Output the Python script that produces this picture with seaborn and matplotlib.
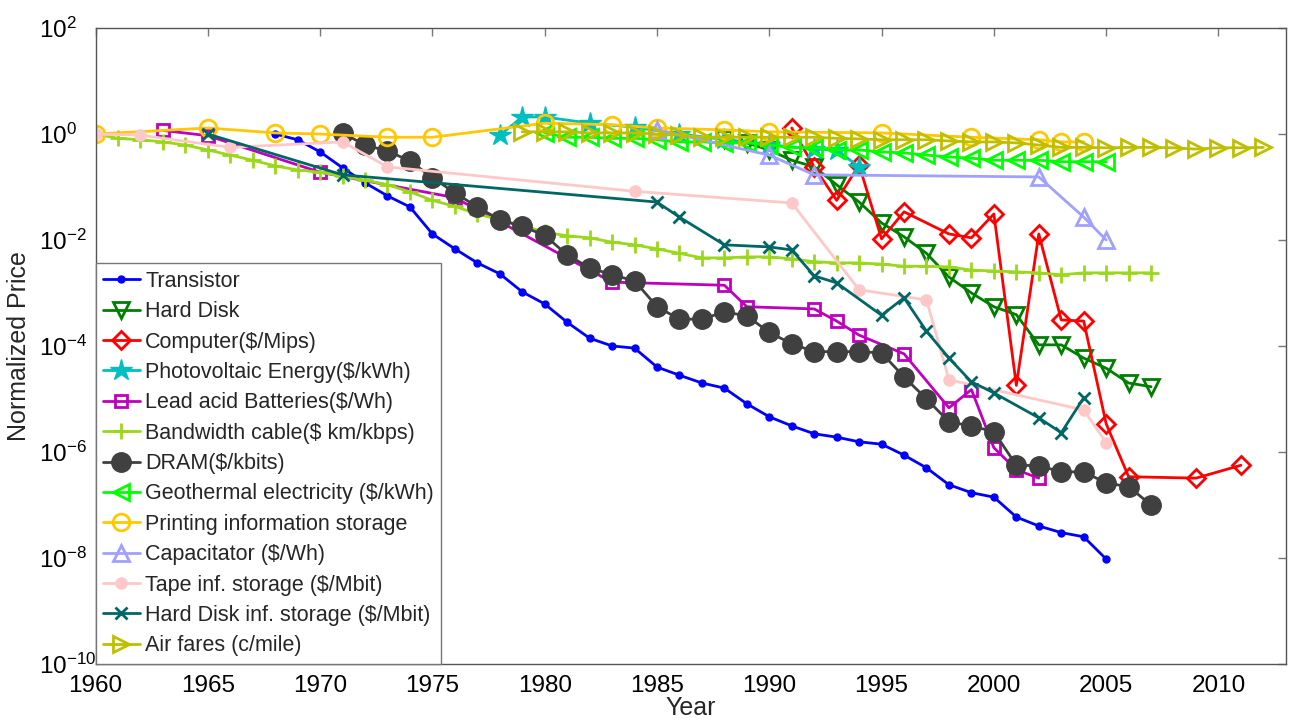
import matplotlib
matplotlib.use('Agg')
import matplotlib.pyplot as plt
import seaborn as sns
import pandas as pd

# ---- data (normalized price vs year) ----
transistor_years = list(range(1968, 2006))
transistor = [1.0, 0.78, 0.46, 0.23, 0.12, 0.068, 0.042, 0.013, 6.8e-3, 3.7e-3,
              2.3e-3, 1.05e-3, 6.2e-4, 2.8e-4, 1.4e-4, 1.0e-4, 9.1e-5, 4.0e-5, 2.8e-5, 2.0e-5,
              1.6e-5, 8.1e-6, 4.6e-6, 3.1e-6, 2.2e-6, 1.9e-6, 1.55e-6, 1.4e-6, 8.7e-7, 5.0e-7,
              2.4e-7, 1.7e-7, 1.4e-7, 5.9e-8, 4.0e-8, 3.0e-8, 2.5e-8, 9.5e-9]

hard_disk_years = list(range(1988, 2008))
hard_disk = [0.79, 0.68, 0.5, 0.32, 0.24, 0.11, 0.052, 0.021, 0.0115, 5.6e-3,
             2.0e-3, 1.0e-3, 5.5e-4, 3.9e-4, 1.05e-4, 1.05e-4, 5.9e-5, 3.8e-5, 2.0e-5, 1.7e-5]

computer_years = [1991, 1992, 1993, 1994, 1995, 1996, 1998, 1999, 2000, 2001, 2002,
                  2003, 2004, 2005, 2006, 2009, 2011]
computer = [1.3, 0.24, 0.056, 0.26, 0.0105, 0.034, 0.013, 0.011, 0.031, 1.8e-5, 0.013,
            3.1e-4, 2.95e-4, 3.4e-6, 3.4e-7, 3.2e-7, 5.6e-7]

pv_years = [1978, 1979, 1980, 1982, 1984, 1986, 1988, 1990, 1992, 1993, 1994]
pv = [0.95, 2.1, 2.1, 1.6, 1.35, 1.0, 0.79, 0.63, 0.52, 0.5, 0.24]

lead_years = [1963, 1965, 1970, 1976, 1983, 1988, 1989, 1992, 1993, 1994, 1996,
              1998, 1999, 2000, 2001, 2002]
lead = [1.17, 0.93, 0.19, 0.063, 1.6e-3, 1.4e-3, 5.5e-4, 5.0e-4, 2.95e-4, 1.6e-4, 7.1e-5,
        6.8e-6, 1.5e-5, 1.2e-6, 4.6e-7, 3.2e-7]

bandwidth_years = list(range(1960, 2008))
bandwidth = [1.0, 0.83, 0.78, 0.71, 0.62, 0.50, 0.40, 0.32, 0.25, 0.21,
             0.19, 0.16, 0.135, 0.11, 0.081, 0.056, 0.043, 0.031, 0.024, 0.019,
             0.014, 0.012, 0.011, 9.1e-3, 8.1e-3, 6.8e-3, 5.6e-3, 4.6e-3, 4.6e-3, 4.8e-3,
             4.8e-3, 4.4e-3, 3.9e-3, 3.7e-3, 3.7e-3, 3.5e-3, 3.2e-3, 3.2e-3, 3.1e-3, 2.7e-3,
             2.6e-3, 2.5e-3, 2.4e-3, 2.2e-3, 2.4e-3, 2.4e-3, 2.4e-3, 2.4e-3]

dram_years = list(range(1971, 2008))
dram = [1.05, 0.62, 0.48, 0.31, 0.15, 0.078, 0.042, 0.024, 0.018, 0.0123,
        5.2e-3, 3.0e-3, 2.2e-3, 1.7e-3, 5.5e-4, 3.2e-4, 3.2e-4, 4.4e-4, 3.7e-4, 1.8e-4,
        1.1e-4, 7.8e-5, 7.8e-5, 7.8e-5, 7.4e-5, 2.6e-5, 1.0e-5, 3.7e-6, 3.1e-6, 2.4e-6,
        5.6e-7, 5.5e-7, 4.2e-7, 4.2e-7, 2.6e-7, 2.2e-7, 1.0e-7]

geo_years = list(range(1980, 2006))
geo = [1.05, 0.87, 0.87, 0.83, 0.83, 0.78, 0.71, 0.71, 0.68, 0.68,
       0.62, 0.56, 0.55, 0.50, 0.50, 0.46, 0.44, 0.40, 0.37, 0.35,
       0.32, 0.32, 0.32, 0.30, 0.30, 0.30]

printing_years = [1960, 1965, 1968, 1970, 1973, 1975, 1980, 1983, 1985, 1988, 1990,
                  1995, 1999, 2002, 2003, 2004]
printing = [1.0, 1.3, 1.05, 1.0, 0.87, 0.87, 1.6, 1.5, 1.3, 1.2, 1.1,
            1.05, 0.87, 0.78, 0.71, 0.71]

cap_years = [1985, 1990, 1992, 2002, 2004, 2005]
cap = [1.2, 0.40, 0.17, 0.155, 0.027, 0.01]

tape_years = [1960, 1962, 1966, 1971, 1973, 1984, 1991, 1994, 1997, 1998, 2004, 2005]
tape = [1.0, 0.95, 0.56, 0.71, 0.24, 0.083, 0.050, 1.15e-3, 7.4e-4, 2.3e-5, 6.2e-6, 1.5e-6]

hdinf_years = [1965, 1971, 1985, 1986, 1988, 1990, 1991, 1992, 1993, 1995, 1996, 1997,
               1998, 1999, 2000, 2002, 2003, 2004]
hdinf = [1.0, 0.17, 0.052, 0.027, 8.1e-3, 7.4e-3, 6.5e-3, 2.1e-3, 1.55e-3, 3.8e-4, 8.1e-4,
         1.9e-4, 5.9e-5, 2.1e-5, 1.3e-5, 4.4e-6, 2.3e-6, 1.05e-5]

air_years = list(range(1979, 2013))
air = [1.1, 1.1, 1.1, 1.05, 1.05, 1.05, 1.0, 0.95, 0.87, 0.87,
       0.87, 0.87, 0.87, 0.87, 0.83, 0.81, 0.78, 0.78, 0.78, 0.74,
       0.71, 0.71, 0.68, 0.62, 0.56, 0.56, 0.55, 0.56, 0.56, 0.55,
       0.52, 0.55, 0.55, 0.56]

# (label, years, values, color, marker, markersize, filled)
series = [
    ('Transistor', transistor_years, transistor, '#0000FF', 'o', 5, True),
    ('Hard Disk', hard_disk_years, hard_disk, '#007F00', 'v', 11, False),
    ('Computer($/Mips)', computer_years, computer, '#FF0000', 'D', 9, False),
    ('Photovoltaic Energy($/kWh)', pv_years, pv, '#00BFBF', '*', 16, True),
    ('Lead acid Batteries($/Wh)', lead_years, lead, '#BF00BF', 's', 9, False),
    ('Bandwidth cable($ km/kbps)', bandwidth_years, bandwidth, '#99D81A', '+', 11, False),
    ('DRAM($/kbits)', dram_years, dram, '#404040', 'o', 14, True),
    ('Geothermal electricity ($/kWh)', geo_years, geo, '#00FF00', '<', 11, False),
    ('Printing information storage', printing_years, printing, '#FFC800', 'o', 12, False),
    ('Capacitator ($/Wh)', cap_years, cap, '#A0A0FF', '^', 12, False),
    ('Tape inf. storage ($/Mbit)', tape_years, tape, '#FFC8C8', 'o', 8, True),
    ('Hard Disk inf. storage ($/Mbit)', hdinf_years, hdinf, '#006666', 'x', 8, False),
    ('Air fares (c/mile)', air_years, air, '#BFBF00', '>', 12, False),
]

sns.set_style('white')
plt.rcParams['font.family'] = ['Liberation Sans', 'DejaVu Sans']
plt.rcParams['mathtext.fontset'] = 'custom'
plt.rcParams['mathtext.rm'] = 'Liberation Sans'

fig = plt.figure(figsize=(12.91, 7.2), dpi=100)
ax = fig.add_axes([0.074, 0.078, 0.922, 0.883])

for label, yrs, vals, color, marker, ms, filled in series:
    df = pd.DataFrame({'Year': yrs, 'Price': vals})
    sns.lineplot(data=df, x='Year', y='Price', ax=ax, color=color, lw=2,
                 marker=marker, markersize=ms,
                 markerfacecolor=color if filled else 'none',
                 markeredgecolor=color, markeredgewidth=2 if not filled else 1,
                 label=label, sort=False, estimator=None)

ax.set_yscale('log')
ax.set_xlim(1960, 2013)
ax.set_ylim(1e-10, 1e2)
ax.set_xticks(range(1960, 2011, 5))
ax.set_yticks([10.0 ** k for k in range(-10, 3, 2)])
ax.minorticks_off()
ax.tick_params(direction='in', length=6, width=1, colors='#777777',
               labelcolor='black', labelsize=17.5, top=True, right=True)
ax.tick_params(axis='x', pad=8)
# MATLAB-style: the "10" bases line up on the left
ax.tick_params(axis='y', pad=41)
for t in ax.get_yticklabels():
    t.set_horizontalalignment('left')
for sp in ax.spines.values():
    sp.set_color('#555555')
    sp.set_linewidth(1)
ax.set_xlabel('Year', fontsize=18)
ax.set_ylabel('Normalized Price', fontsize=18)
ax.xaxis.set_label_coords(0.5, -0.05)
ax.yaxis.set_label_coords(-0.054, 0.5)

leg = ax.legend(loc='lower left', bbox_to_anchor=(0, 0), borderaxespad=0,
                fontsize=15.5, fancybox=False, framealpha=1, edgecolor='#777777',
                handlelength=1.7, handletextpad=0.25, labelspacing=0.435,
                borderpad=0.35, numpoints=1)
leg.get_frame().set_linewidth(1)

fig.savefig('out.png', dpi=100)
